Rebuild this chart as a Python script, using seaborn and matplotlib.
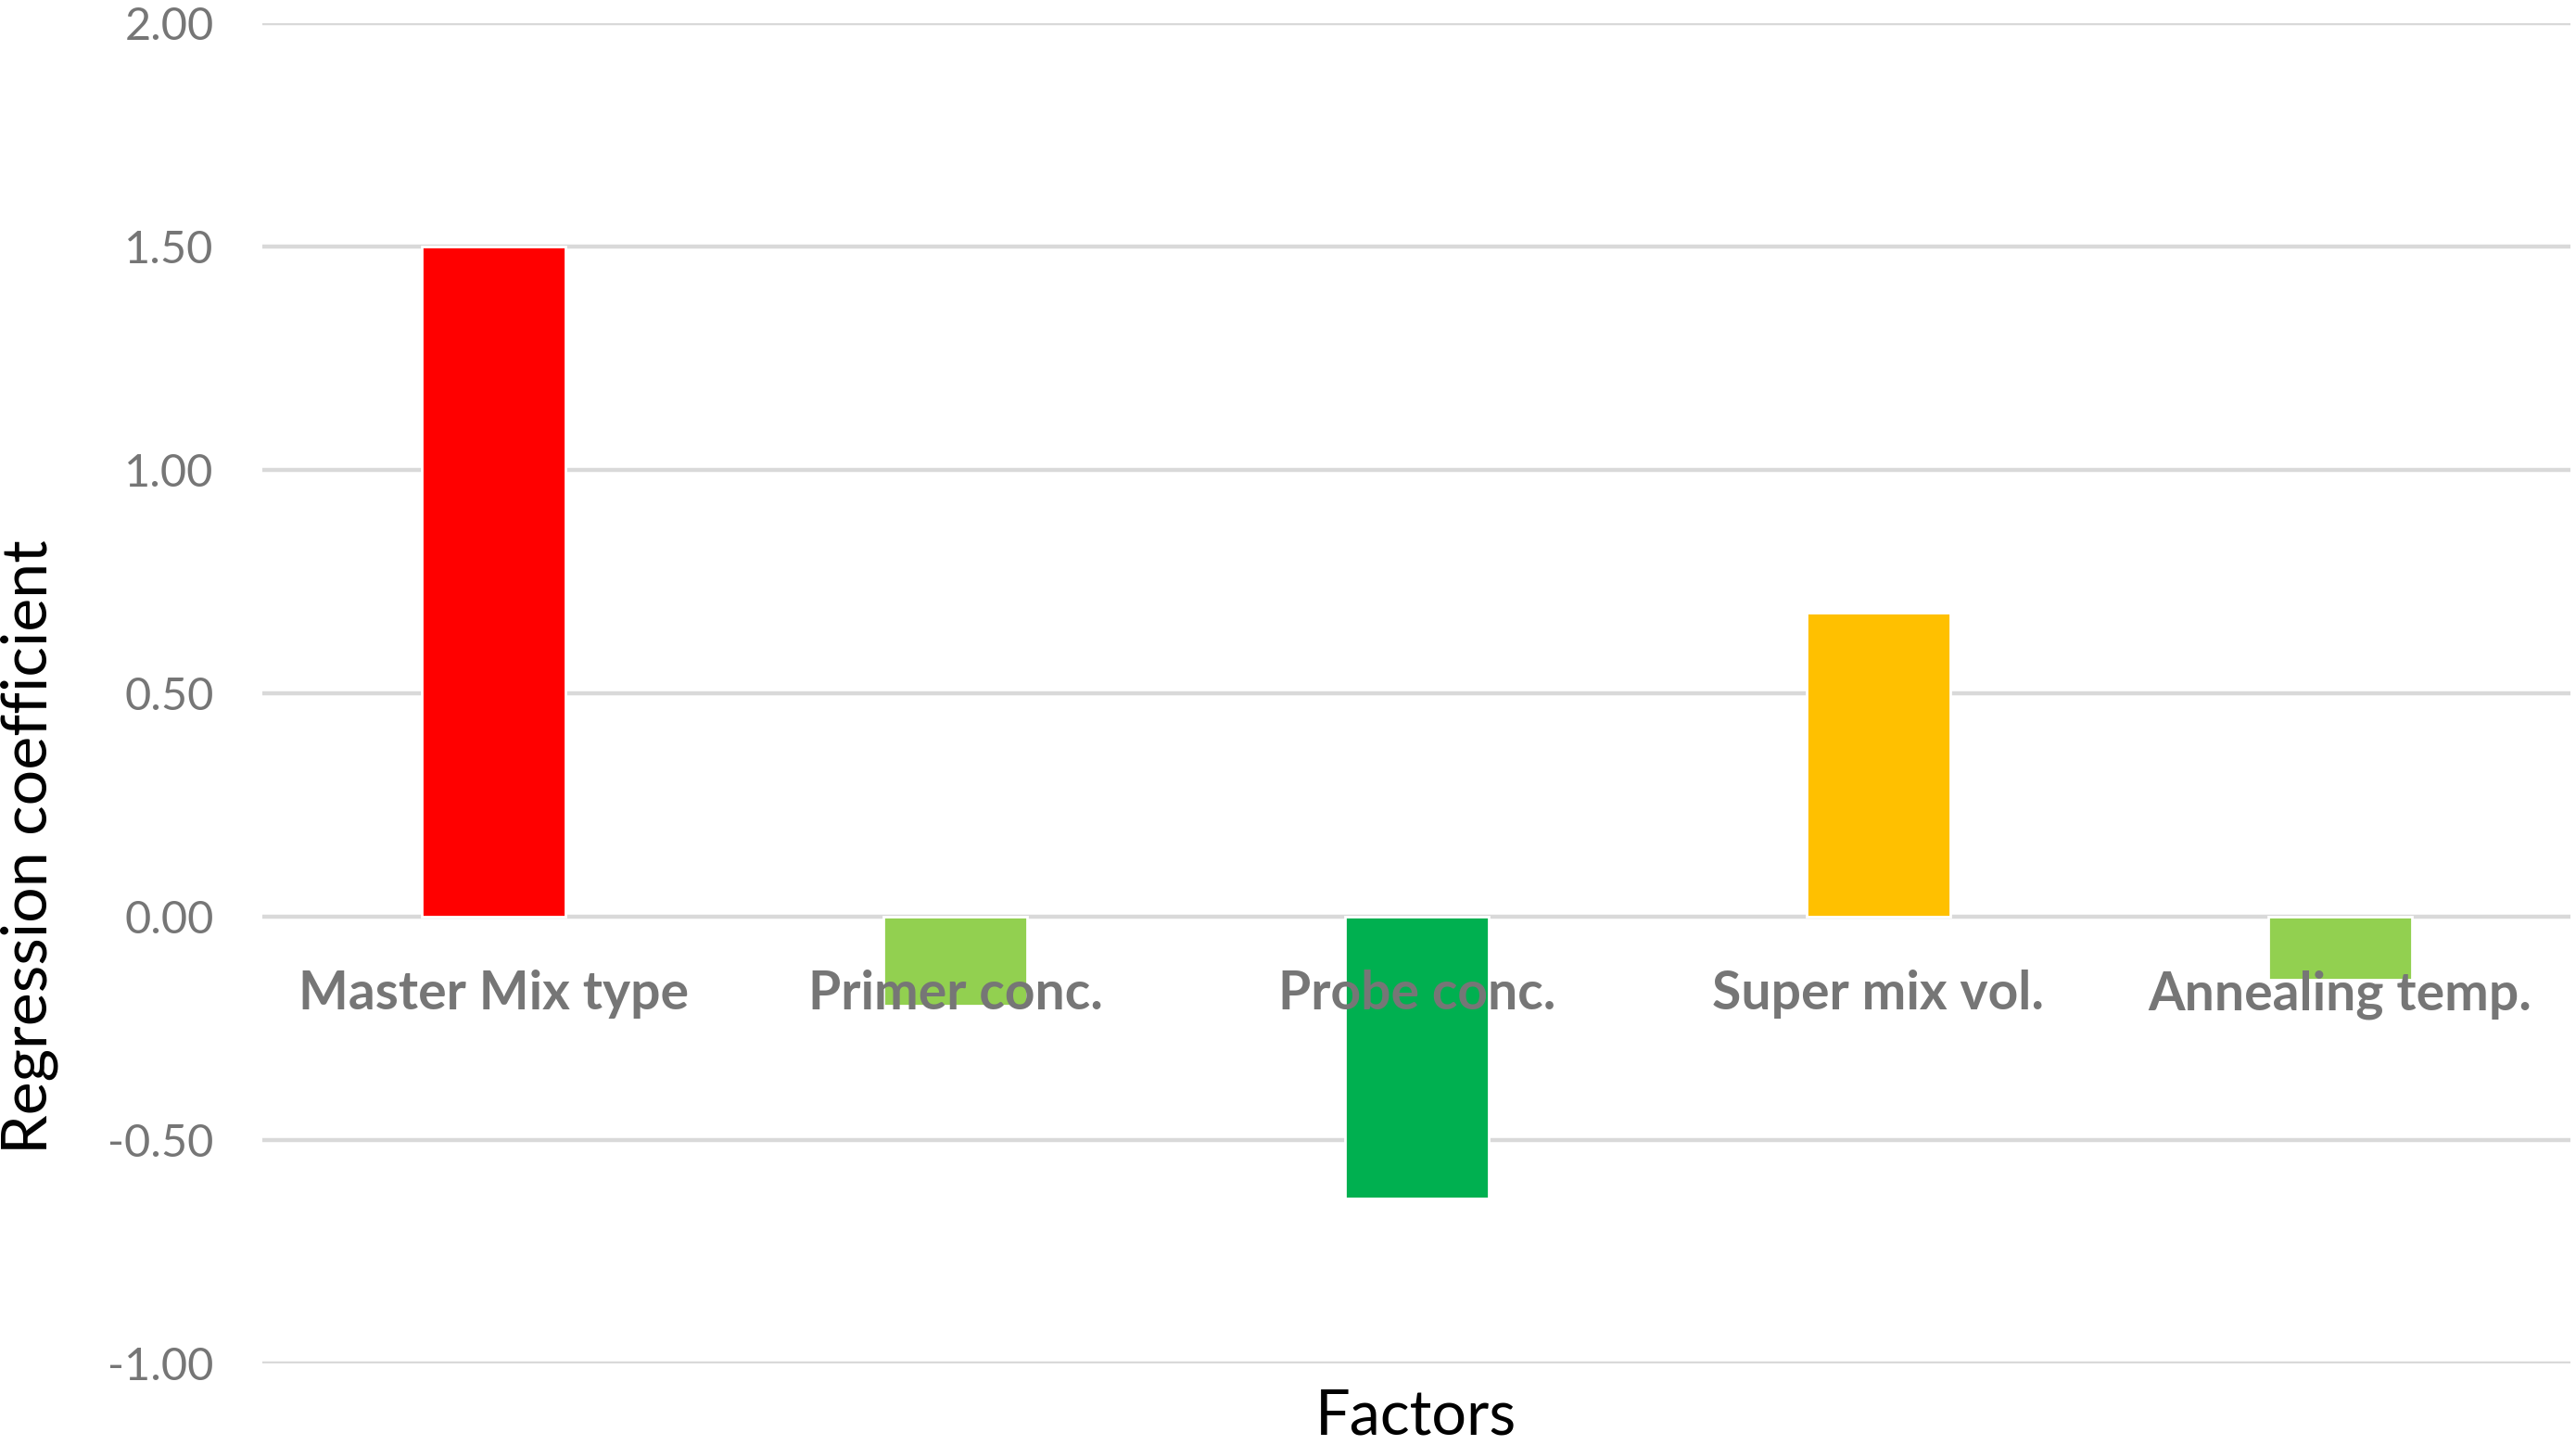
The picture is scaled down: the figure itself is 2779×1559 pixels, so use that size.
import matplotlib
matplotlib.use("Agg")
import matplotlib.pyplot as plt
import seaborn as sns
import pandas as pd

sns.set_theme(style="whitegrid")
plt.rcParams["font.family"] = ["Lato", "DejaVu Sans"]

# data
factors = ["Master Mix type", "Primer conc.", "Probe conc.", "Super mix vol.", "Annealing temp."]
coefficients = [1.50, -0.20, -0.63, 0.68, -0.14]
bar_colors = ["#FF0000", "#92D050", "#00B050", "#FFC000", "#92D050"]
y_ticks = [-1.00, -0.50, 0.00, 0.50, 1.00, 1.50, 2.00]

df = pd.DataFrame({"factor": factors, "coef": coefficients})

fig = plt.figure(figsize=(13.895, 7.795), dpi=200)
ax = fig.add_axes([0.102, 0.0564, 0.896, 0.9276])

sns.barplot(data=df, x="factor", y="coef", hue="factor", palette=bar_colors,
            width=0.31, legend=False, saturation=1, ax=ax, zorder=3)

ax.set_ylim(-1.0, 2.0)
ax.set_xlim(-0.5, len(factors) - 0.5)
ax.set_yticks(y_ticks)
ax.set_yticklabels([f"{v:.2f}" for v in y_ticks], fontsize=17.5, color="#767676")
ax.tick_params(axis="y", length=0, pad=19)

# grid: horizontal only, light grey
ax.grid(axis="x", visible=False)
ax.grid(axis="y", color="#D9D9D9", linewidth=1.6, zorder=0)
ax.set_axisbelow(True)
for s in ax.spines.values():
    s.set_visible(False)

# category labels sit just under the zero line, like Excel
ax.set_xticks([])
ax.set_xlabel("")
ax.set_ylabel("")
for i, name in enumerate(factors):
    ax.annotate(name, xy=(i, 0), xytext=(0, -36), textcoords="offset points",
                ha="center", va="baseline", fontsize=20.5, fontweight="bold",
                color="#767676", zorder=4)

fig.text(0.5497, 0.0195, "Factors", ha="center", va="center", fontsize=24, color="black")
fig.text(0.0115, 0.414, "Regression coefficient", ha="center", va="center",
         rotation=90, fontsize=24.5, color="black")

fig.savefig("out.png", dpi=200, facecolor="white")
